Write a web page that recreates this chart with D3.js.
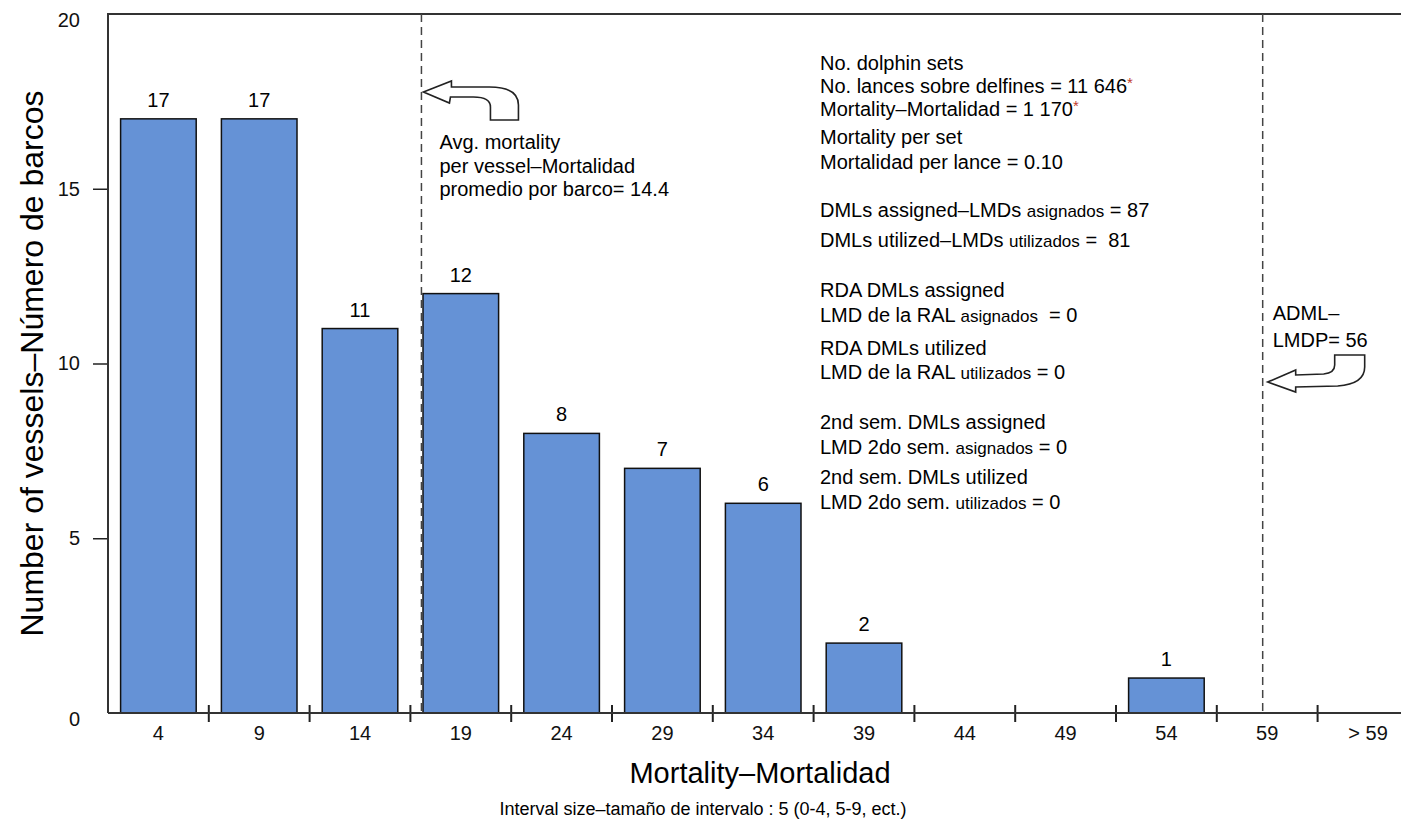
<!DOCTYPE html>
<html>
<head>
<meta charset="utf-8">
<script src="https://cdn.jsdelivr.net/npm/d3@7"></script>
<style>
  body { margin: 0; background: #fff; }
  svg { display: block; font-family: "Liberation Sans", Arial, sans-serif; }
  text { white-space: pre; }
</style>
</head>
<body>
<svg id="chart" width="1401" height="822"></svg>
<script>
// mortality classes (upper bound of each 5-wide interval) and number of vessels
const categories = ["4", "9", "14", "19", "24", "29", "34", "39", "44", "49", "54", "59", "> 59"];
const vessels = [17, 17, 11, 12, 8, 7, 6, 2, 0, 0, 1, 0, 0];
const yTicks = [0, 5, 10, 15, 20];

// reference lines: average mortality per vessel and ADML
const avgMortality = 14.4;
const adml = 56;
const avgLabel = ["Avg. mortality", "per vessel\u2013Mortalidad", "promedio por barco= 14.4"];
const admlLabel = ["ADML\u2013", "LMDP= 56"];

// summary text block: [text, kind] with kind n = normal, s = small, r = red star
const summary = [
  [["No. dolphin sets", "n"]],
  [["No. lances sobre delfines = 11 646", "n"], ["*", "r"]],
  [["Mortality\u2013Mortalidad = 1 170", "n"], ["*", "r"]],
  [["Mortality per set", "n"]],
  [["Mortalidad per lance = 0.10", "n"]],
  [["DMLs assigned\u2013LMDs ", "n"], ["asignados", "s"], [" = 87", "n"]],
  [["DMLs utilized\u2013LMDs ", "n"], ["utilizados", "s"], [" =  81", "n"]],
  [["RDA DMLs assigned", "n"]],
  [["LMD de la RAL ", "n"], ["asignados", "s"], ["  = 0", "n"]],
  [["RDA DMLs utilized", "n"]],
  [["LMD de la RAL ", "n"], ["utilizados", "s"], [" = 0", "n"]],
  [["2nd sem. DMLs assigned", "n"]],
  [["LMD 2do sem. ", "n"], ["asignados", "s"], [" = 0", "n"]],
  [["2nd sem. DMLs utilized", "n"]],
  [["LMD 2do sem. ", "n"], ["utilizados", "s"], [" = 0", "n"]]
];
// vertical layout of the summary lines (pixel centre of each line)
const summaryRows = [63, 86, 109, 137, 162, 210, 240, 290, 315, 348, 372, 422, 447, 477, 502];

(function() {
  const svg = d3.select("#chart");
  const left = 108, plotTop = 14, bottom = 713;
  const step = 100.8;
  const right = left + step * categories.length;

  const x = d3.scaleBand()
    .domain(categories)
    .range([left, right])
    .paddingInner(0.25)
    .paddingOuter(0.125);

  // continuous mortality axis used for the reference lines
  const xv = d3.scaleLinear().domain([-1.1, 63.7]).range([left, right]);

  const y = d3.scaleLinear().domain([0, 20]).range([bottom, plotTop]);

  const barData = categories.map((c, i) => ({ c, v: vessels[i] })).filter(d => d.v > 0);

  // bars
  svg.append("g").selectAll("rect")
    .data(barData)
    .enter().append("rect")
    .attr("x", d => x(d.c))
    .attr("y", d => y(d.v))
    .attr("width", x.bandwidth())
    .attr("height", d => y(0) - y(d.v))
    .attr("fill", "#6592d6")
    .attr("stroke", "#111")
    .attr("stroke-width", 1.5);

  svg.append("g").selectAll("text")
    .data(barData)
    .enter().append("text")
    .attr("x", d => x(d.c) + x.bandwidth() / 2)
    .attr("y", d => y(d.v) - 19)
    .attr("dy", "0.35em")
    .attr("text-anchor", "middle")
    .style("font-size", "20px")
    .text(d => d.v);

  // y axis
  const yAxis = svg.append("g")
    .attr("transform", `translate(${left},0)`)
    .call(d3.axisLeft(y).tickValues(yTicks).tickSize(15).tickPadding(13));
  yAxis.select(".domain").remove();
  yAxis.selectAll(".tick line").attr("stroke", "#222").attr("stroke-width", 1.5)
    .filter(d => d === 0 || d === 20).remove();
  yAxis.selectAll(".tick text").style("font-size", "20px").attr("fill", "#111")
    .style("font-family", "\"Liberation Sans\", Arial, sans-serif")
    .attr("y", d => (d === 0 || d === 20) ? 6 : 0);

  // x axis labels and class boundary ticks
  const xAxis = svg.append("g")
    .attr("transform", `translate(0,${bottom})`)
    .call(d3.axisBottom(x).tickSize(0).tickPadding(13));
  xAxis.select(".domain").remove();
  xAxis.selectAll(".tick text").style("font-size", "20px").attr("fill", "#111")
    .style("font-family", "\"Liberation Sans\", Arial, sans-serif");

  svg.append("g").selectAll("line")
    .data(categories.slice(1))
    .enter().append("line")
    .attr("x1", d => x(d) - x.step() * x.paddingInner() / 2)
    .attr("x2", d => x(d) - x.step() * x.paddingInner() / 2)
    .attr("y1", bottom - 8)
    .attr("y2", bottom + 9)
    .attr("stroke", "#222")
    .attr("stroke-width", 2);

  // frame: left, top, bottom
  svg.append("path")
    .attr("d", `M${left},${bottom}V${plotTop}H${1401}M${left},${bottom}H${1401}`)
    .attr("fill", "none")
    .attr("stroke", "#333")
    .attr("stroke-width", 2);

  // reference lines
  [avgMortality, adml].forEach(v => {
    svg.append("line")
      .attr("x1", xv(v)).attr("x2", xv(v))
      .attr("y1", plotTop).attr("y2", bottom)
      .attr("stroke", "#444")
      .attr("stroke-width", 1.5)
      .attr("stroke-dasharray", "8,5");
  });

  // hooked arrows
  const ax1 = xv(avgMortality) + 2;
  svg.append("path")
    .attr("transform", `translate(${ax1},92)`)
    .attr("d", "M0,0L28,-11L28,-5L66,-5Q95,-5 95,13L95,28L67,28L67,15Q67,5 50,5L27,5L26,11Z")
    .attr("fill", "#fff").attr("stroke", "#222").attr("stroke-width", 1.6);

  const ax2 = xv(adml) + 5;
  svg.append("path")
    .attr("transform", `translate(${ax2},382)`)
    .attr("d", "M0,0L28,-12L28,-7L56,-8Q67,-9 67,-17L67,-27L97,-27L97,-15Q97,2 70,4L28,5L28,10Z")
    .attr("fill", "#fff").attr("stroke", "#222").attr("stroke-width", 1.6);

  // reference line labels
  svg.append("g").selectAll("text")
    .data(avgLabel)
    .enter().append("text")
    .attr("x", xv(avgMortality) + 18)
    .attr("y", (d, i) => 142 + i * 23.5)
    .attr("dy", "0.35em")
    .style("font-size", "20px")
    .text(d => d);

  svg.append("g").selectAll("text")
    .data(admlLabel)
    .enter().append("text")
    .attr("x", xv(adml) + 10)
    .attr("y", (d, i) => 313 + i * 27)
    .attr("dy", "0.35em")
    .style("font-size", "20px")
    .text(d => d);

  // summary block
  const block = svg.append("g");
  summary.forEach((line, i) => {
    const t = block.append("text")
      .attr("x", 820)
      .attr("y", summaryRows[i] + 7);
    line.forEach(([s, k]) => {
      const sp = t.append("tspan").text(s).style("font-size", "20px");
      if (k === "s") sp.style("font-size", "17px");
      if (k === "r") sp.style("font-size", "15px").attr("fill", "#c0392b").attr("dy", -5);
    });
  });

  // axis titles
  svg.append("text")
    .attr("transform", `translate(32,${(plotTop + bottom) / 2}) rotate(-90)`)
    .attr("text-anchor", "middle")
    .attr("dy", "0.35em")
    .style("font-size", "32px")
    .text("Number of vessels\u2013N\u00famero de barcos");

  svg.append("text")
    .attr("x", 760)
    .attr("y", 773)
    .attr("dy", "0.35em")
    .attr("text-anchor", "middle")
    .style("font-size", "29px")
    .text("Mortality\u2013Mortalidad");

  svg.append("text")
    .attr("x", 703)
    .attr("y", 809)
    .attr("dy", "0.35em")
    .attr("text-anchor", "middle")
    .style("font-size", "18px")
    .text("Interval size\u2013tama\u00f1o de intervalo : 5 (0-4, 5-9, ect.)");
})();
</script>
</body>
</html>
